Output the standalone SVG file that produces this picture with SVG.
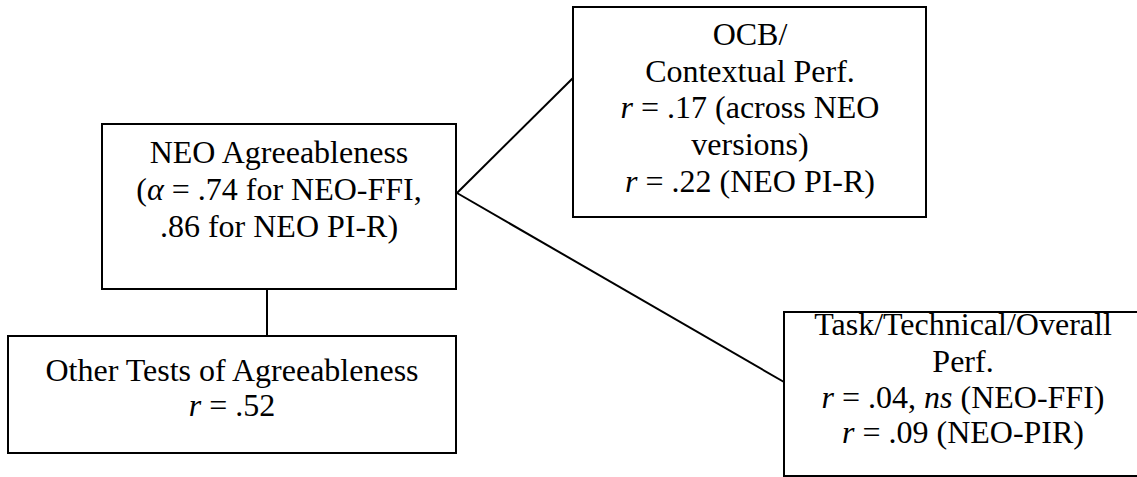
<svg xmlns="http://www.w3.org/2000/svg" width="1137" height="477" viewBox="0 0 1137 477">
<style>
.box{fill:#fff;stroke:#000;stroke-width:2}
.ln{stroke:#000;stroke-width:2;fill:none}
text{font-family:"Liberation Serif","Times New Roman",serif;font-size:32px;fill:#000;text-anchor:middle}
.i{font-style:italic}
</style>
<rect width="1137" height="477" fill="#fff"/>
<g id="connectors">
<line class="ln" x1="457" y1="193" x2="573" y2="78"/>
<line class="ln" x1="457" y1="193" x2="784" y2="382"/>
<line class="ln" x1="267" y1="289" x2="267" y2="336"/>
</g>
<g id="neo">
<rect class="box" x="102" y="124" width="354" height="165"/>
<text x="279" y="163">NEO Agreeableness</text>
<text x="279" y="200">(<tspan class="i">α</tspan> = .74 for NEO-FFI,</text>
<text x="279" y="237">.86 for NEO PI-R)</text>
</g>
<g id="ocb">
<rect class="box" x="573" y="7" width="353" height="210"/>
<text x="750" y="45">OCB/</text>
<text x="750" y="82">Contextual Perf.</text>
<text x="750" y="118"><tspan class="i">r</tspan> = .17 (across NEO</text>
<text x="750" y="155">versions)</text>
<text x="750" y="192"><tspan class="i">r</tspan> = .22 (NEO PI-R)</text>
</g>
<g id="other">
<rect class="box" x="8" y="336" width="448" height="117"/>
<text x="232" y="381">Other Tests of Agreeableness</text>
<text x="232" y="416"><tspan class="i">r</tspan> = .52</text>
</g>
<g id="task">
<rect class="box" x="784" y="312" width="400" height="164"/>
<text x="963" y="335">Task/Technical/Overall</text>
<text x="963" y="372">Perf.</text>
<text x="963" y="408"><tspan class="i">r</tspan> = .04, <tspan class="i">ns</tspan> (NEO-FFI)</text>
<text x="963" y="443"><tspan class="i">r</tspan> = .09 (NEO-PIR)</text>
</g>
</svg>
